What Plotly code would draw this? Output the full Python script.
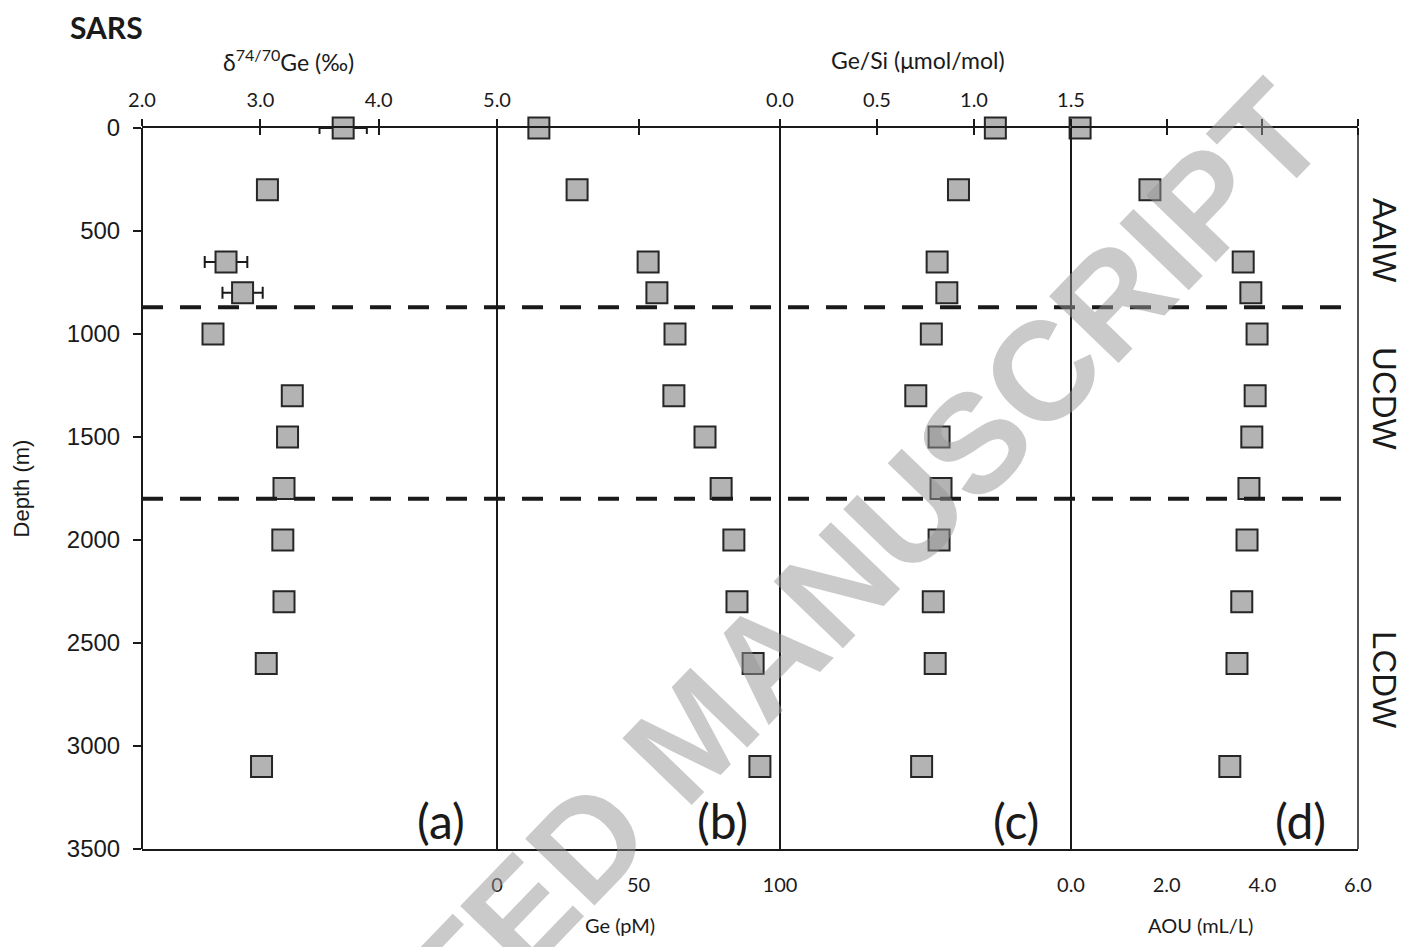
import plotly.graph_objects as go

# depth profile at the SARS station
depth = [0, 300, 650, 800, 1000, 1300, 1500, 1750, 2000, 2300, 2600, 3100]

d74ge = [3.70, 3.06, 2.71, 2.85, 2.60, 3.27, 3.23, 3.20, 3.19, 3.20, 3.05, 3.01]
d74ge_err = [0.20, 0.06, 0.18, 0.17, 0.06, 0.06, 0.06, 0.06, 0.06, 0.06, 0.06, 0.06]
ge_pm = [14.8, 28.3, 53.4, 56.5, 62.9, 62.5, 73.5, 79.2, 83.7, 84.8, 90.5, 92.9]
ge_si = [1.11, 0.92, 0.81, 0.86, 0.78, 0.70, 0.82, 0.83, 0.82, 0.79, 0.80, 0.73]
aou = [0.19, 1.65, 3.60, 3.76, 3.89, 3.85, 3.78, 3.72, 3.68, 3.57, 3.47, 3.32]

water_masses = ["AAIW", "UCDW", "LCDW"]
water_mass_depth = [544, 1311, 2680]
boundaries = [870, 1800]

panel_labels = ["(a)", "(b)", "(c)", "(d)"]

#######################################################################################################################
# layout constants (pixels of the 1416x947 page)
W, H = 1416, 947
L, R, T, B = 142, 58, 128, 98
plot_w = W - L - R
plot_h = H - T - B
edges_px = [142, 497, 780, 1071, 1358]
edges = [(e - L) / plot_w for e in edges_px]

txt_font = "Lato, 'Open Sans', sans-serif"
num_font = "Liberation Sans, Arial, sans-serif"
ink = "#1a1a1a"

marker = dict(symbol="square", size=21, color="#b3b3b3", line=dict(color="#262626", width=2))

fig = go.Figure()
fig.add_trace(go.Scatter(x=d74ge, y=depth, mode="markers", marker=marker, xaxis="x", yaxis="y", cliponaxis=False,
                         error_x=dict(type="data", array=d74ge_err, color=ink, thickness=2, width=6)))
fig.add_trace(go.Scatter(x=ge_pm, y=depth, mode="markers", marker=marker, xaxis="x2", yaxis="y", cliponaxis=False))
fig.add_trace(go.Scatter(x=ge_si, y=depth, mode="markers", marker=marker, xaxis="x3", yaxis="y", cliponaxis=False))
fig.add_trace(go.Scatter(x=aou, y=depth, mode="markers", marker=marker, xaxis="x4", yaxis="y", cliponaxis=False))
# invisible copies so the bottom label axes of (b) and (d) get drawn
fig.add_trace(go.Scatter(x=ge_pm, y=depth, mode="markers", marker=dict(opacity=0), hoverinfo="skip",
                         xaxis="x5", yaxis="y"))
fig.add_trace(go.Scatter(x=aou, y=depth, mode="markers", marker=dict(opacity=0), hoverinfo="skip",
                         xaxis="x6", yaxis="y"))


def top_axis(i, rng, vals, labels, show):
    return dict(domain=[edges[i], edges[i + 1]], range=rng, anchor="y", side="top",
                tickmode="array", tickvals=vals, ticktext=labels, showticklabels=show,
                showline=True, linecolor=ink, linewidth=2, mirror=True,
                ticks="outside", ticklen=7, tickwidth=2, tickcolor=ink,
                minor=dict(tickmode="array", tickvals=vals, ticks="inside", ticklen=7,
                           tickwidth=2, tickcolor=ink),
                showgrid=False, zeroline=False, fixedrange=True,
                tickfont=dict(family=txt_font, size=20, color=ink), ticklabelstandoff=4)


def bottom_axis(over, i, rng, vals, labels):
    return dict(overlaying=over, domain=[edges[i], edges[i + 1]], range=rng, anchor="y", side="bottom",
                tickmode="array", tickvals=vals, ticktext=labels, showline=False, ticks="",
                showgrid=False, zeroline=False, fixedrange=True, ticklabelstandoff=22,
                tickfont=dict(family=txt_font, size=20, color=ink))


fig.update_layout(
    width=W, height=H,
    margin=dict(l=L, r=R, t=T, b=B),
    plot_bgcolor="white", paper_bgcolor="white",
    showlegend=False,
    title=dict(text="<b>SARS</b>", x=70 / W, xanchor="left", y=1 - 28 / H, yanchor="middle",
               font=dict(family=txt_font, size=30, color=ink)),
    xaxis=top_axis(0, [2, 5], [2, 3, 4, 5], ["2.0", "3.0", "4.0", "5.0"], True),
    xaxis2=top_axis(1, [0, 100], [0, 50, 100], ["0", "50", "100"], False),
    xaxis3=top_axis(2, [0, 1.5], [0, 0.5, 1.0, 1.5], ["0.0", "0.5", "1.0", "1.5"], True),
    xaxis4=top_axis(3, [0, 6], [0, 2, 4, 6], ["0.0", "2.0", "4.0", "6.0"], False),
    xaxis5=bottom_axis("x2", 1, [0, 100], [0, 50, 100], ["0", "50", "100"]),
    xaxis6=bottom_axis("x4", 3, [0, 6], [0, 2, 4, 6], ["0.0", "2.0", "4.0", "6.0"]),
    yaxis=dict(domain=[0, 1], range=[3500, 0], anchor="free", position=0,
               tickmode="linear", tick0=0, dtick=500,
               showline=True, linecolor=ink, linewidth=2,
               ticks="outside", ticklen=8, tickwidth=1.5, tickcolor=ink,
               showgrid=False, zeroline=False, fixedrange=True, ticklabelstandoff=8,
               tickfont=dict(family=num_font, size=24, color=ink),
               title=dict(text="Depth (m)", standoff=30,
                          font=dict(family=num_font, size=22, color=ink))),
)

# panel borders
for i, e in enumerate(edges[1:]):
    fig.add_shape(type="line", xref="paper", yref="paper", x0=e, x1=e, y0=0, y1=1,
                  line=dict(color=ink, width=2 if i < 3 else 1.5))

# water mass boundaries
for d in boundaries:
    fig.add_shape(type="line", xref="paper", yref="y", x0=0, x1=1, y0=d, y1=d,
                  line=dict(color=ink, width=4, dash="21px,17px"))

# axis titles
top_y = 1 + (T - 60) / plot_h
bot_y = -(925 - (H - B)) / plot_h
fig.add_annotation(text="δ<sup>74/70</sup>Ge (‰)", xref="paper", yref="paper", x=(288 - L) / plot_w, y=top_y,
                   xanchor="center", yanchor="middle", showarrow=False,
                   font=dict(family=txt_font, size=23, color=ink))
fig.add_annotation(text="Ge/Si (μmol/mol)", xref="paper", yref="paper", x=(918 - L) / plot_w, y=top_y,
                   xanchor="center", yanchor="middle", showarrow=False,
                   font=dict(family=txt_font, size=23, color=ink))
fig.add_annotation(text="Ge (pM)", xref="paper", yref="paper", x=(620 - L) / plot_w, y=bot_y,
                   xanchor="center", yanchor="middle", showarrow=False,
                   font=dict(family=txt_font, size=20, color=ink))
fig.add_annotation(text="AOU (mL/L)", xref="paper", yref="paper", x=(1200 - L) / plot_w, y=bot_y,
                   xanchor="center", yanchor="middle", showarrow=False,
                   font=dict(family=txt_font, size=20, color=ink))

# panel labels
for i, lab in enumerate(panel_labels):
    fig.add_annotation(text=lab, xref="paper", yref="y", x=edges[i + 1] - 30 / plot_w, y=3360,
                       xanchor="right", yanchor="middle", showarrow=False,
                       font=dict(family=txt_font, size=48, color=ink))

# water mass names on the right
for name, d in zip(water_masses, water_mass_depth):
    fig.add_annotation(text=name, xref="paper", yref="y", x=(1385 - L) / plot_w, y=d,
                       xanchor="center", yanchor="middle", textangle=90, showarrow=False,
                       font=dict(family=num_font, size=33, color=ink))

# watermark
fig.add_annotation(text="<b>ACCEPTED MANUSCRIPT</b>", xref="paper", yref="paper",
                   x=(693 - L) / plot_w, y=1 - (733 - T) / plot_h, xanchor="center", yanchor="middle",
                   textangle=-46, showarrow=False,
                   font=dict(family=num_font, size=140, color="rgba(150,150,150,0.5)"))

fig.write_html("out.html", config={"displayModeBar": False},
               post_script="document.body.style.margin='0';")
